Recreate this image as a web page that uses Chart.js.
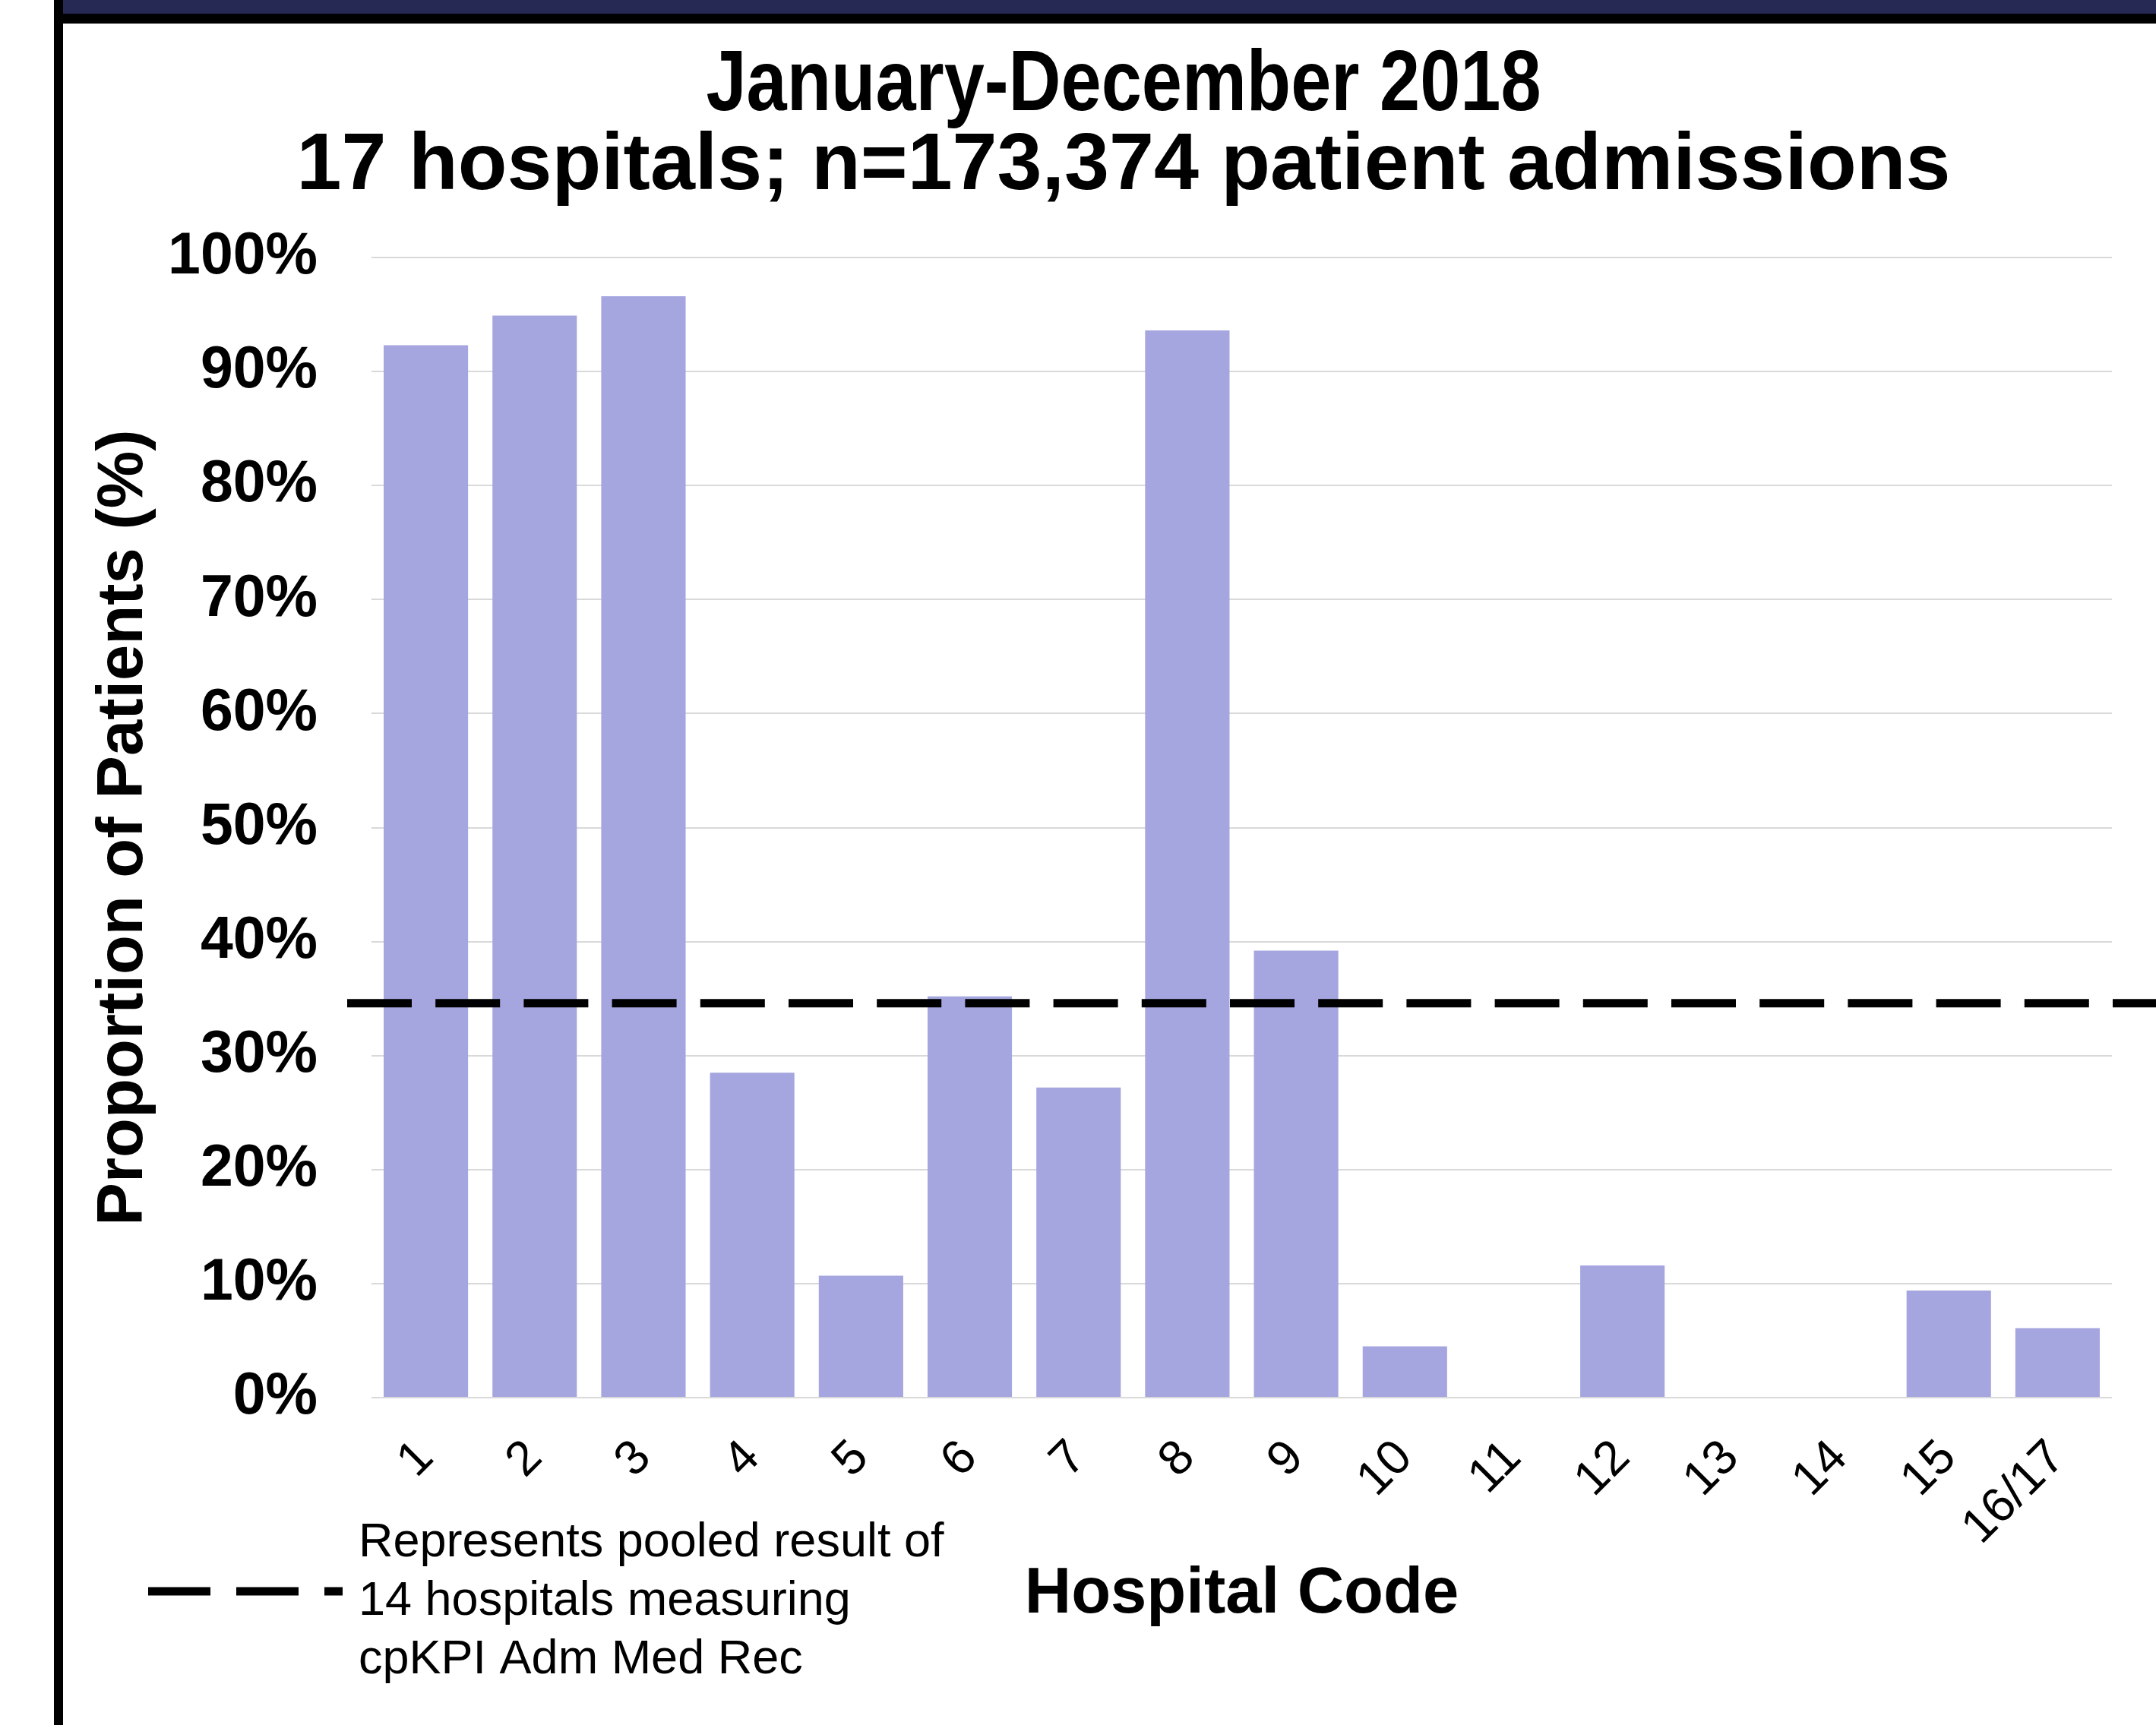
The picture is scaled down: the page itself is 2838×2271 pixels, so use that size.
<!DOCTYPE html>
<html>
<head>
<meta charset="utf-8">
<script src="https://cdn.jsdelivr.net/npm/chart.js@4.4.1/dist/chart.umd.min.js"></script>
<style>
  html, body { margin: 0; padding: 0; background: #ffffff; }
  #wrap { width: 2838px; height: 2271px; position: relative; }
  canvas { display: block; }
</style>
</head>
<body>
<div id="wrap"><canvas id="c" width="2838" height="2271"></canvas></div>
<script>
// ---- data ----
const hospitalCodes = ['1','2','3','4','5','6','7','8','9','10','11','12','13','14','15','16/17'];
const proportionPct = [92.3, 94.9, 96.6, 28.5, 10.7, 35.2, 27.2, 93.6, 39.2, 4.5, null, 11.6, null, null, 9.4, 6.1];
const pooledPct = [34.6];
const yTickValues = [0, 10, 20, 30, 40, 50, 60, 70, 80, 90, 100];
const titleLine1 = 'January-December 2018';
const titleLine2 = '17 hospitals; n=173,374 patient admissions';
const yAxisTitle = 'Proportion of Patients (%)';
const xAxisTitle = 'Hospital Code';
const legendLines = ['Represents pooled result of', '14 hospitals measuring', 'cpKPI Adm Med Rec'];

const SANS = '"Liberation Sans", Arial, sans-serif';

const framePlugin = {
  id: 'frame',
  beforeDraw(chart) {
    const ctx = chart.ctx;
    ctx.save();
    ctx.fillStyle = '#ffffff';
    ctx.fillRect(0, 0, chart.width, chart.height);
    ctx.fillStyle = '#262954';
    ctx.fillRect(83, 0, chart.width - 83, 18);
    ctx.fillStyle = '#000000';
    ctx.fillRect(71, 18, chart.width - 71, 13);
    ctx.fillRect(71, 0, 12, chart.height);
    // condensed first title line
    ctx.font = 'bold 114px ' + SANS;
    ctx.textAlign = 'center';
    ctx.textBaseline = 'alphabetic';
    const w = ctx.measureText(titleLine1).width;
    const sx = 1099 / w;
    ctx.translate(1479, 145);
    ctx.scale(sx, 1);
    ctx.fillText(titleLine1, 0, 0);
    ctx.restore();
  }
};

const pooledLinePlugin = {
  id: 'pooledLine',
  afterDatasetsDraw(chart) {
    const ctx = chart.ctx;
    const y = chart.scales.y.getPixelForValue(pooledPct[0]);
    ctx.save();
    ctx.strokeStyle = '#000000';
    ctx.lineWidth = 11;
    ctx.lineCap = 'butt';
    ctx.setLineDash([85, 31.2]);
    ctx.beginPath();
    ctx.moveTo(457, y);
    ctx.lineTo(chart.width, y);
    ctx.stroke();
    ctx.restore();
  }
};

const legendNotePlugin = {
  id: 'legendNote',
  afterDraw(chart) {
    const ctx = chart.ctx;
    ctx.save();
    ctx.strokeStyle = '#000000';
    ctx.lineWidth = 11;
    ctx.setLineDash([82, 34]);
    ctx.beginPath();
    ctx.moveTo(195, 2095);
    ctx.lineTo(451, 2095);
    ctx.stroke();
    ctx.setLineDash([]);
    ctx.fillStyle = '#000000';
    ctx.font = '63px ' + SANS;
    ctx.textAlign = 'left';
    ctx.textBaseline = 'alphabetic';
    legendLines.forEach((t, i) => ctx.fillText(t, 472, 2049 + i * 77));
    ctx.restore();
  }
};

new Chart(document.getElementById('c'), {
  type: 'bar',
  data: {
    labels: hospitalCodes,
    datasets: [{
      data: proportionPct,
      backgroundColor: '#a5a5df',
      borderWidth: 0,
      categoryPercentage: 1.0,
      barPercentage: 0.776
    }]
  },
  options: {
    responsive: false,
    animation: false,
    devicePixelRatio: 1,
    layout: { padding: { left: 178, right: 58, top: 162.5, bottom: 0 } },
    plugins: {
      legend: { display: false },
      tooltip: { enabled: false },
      title: { display: false },
      subtitle: {
        display: true,
        text: titleLine2,
        color: '#000000',
        font: { family: SANS, size: 106, weight: 'bold', lineHeight: 1.0 },
        padding: { top: 4.5, bottom: 66 }
      }
    },
    scales: {
      x: {
        grid: { display: false, drawTicks: false },
        border: { display: false },
        ticks: {
          color: '#000000',
          font: { family: SANS, size: 64 },
          minRotation: 45,
          maxRotation: 45,
          autoSkip: false,
          padding: 42
        },
        title: {
          display: true,
          text: xAxisTitle,
          color: '#000000',
          font: { family: SANS, size: 85, weight: 'bold', lineHeight: 1.2 },
          padding: { top: 0, bottom: 120 }
        },
        afterFit(scale) { scale.height = 431; }
      },
      y: {
        min: 0,
        max: 100,
        grid: { color: '#d9d9d9', lineWidth: 2, drawTicks: false },
        border: { display: false },
        afterBuildTicks(scale) { scale.ticks = yTickValues.map(v => ({ value: v })); },
        ticks: {
          color: '#000000',
          font: { family: SANS, size: 77, weight: 'bold' },
          padding: 71,
          callback: (v) => v + '%'
        },
        title: {
          display: true,
          text: yAxisTitle,
          color: '#000000',
          font: { family: SANS, size: 85, weight: 'bold', lineHeight: 1.0 },
          padding: { top: -56.5, bottom: 0 }
        },
        afterFit(scale) { scale.width = 311; }
      }
    }
  },
  plugins: [framePlugin, pooledLinePlugin, legendNotePlugin]
});
</script>
</body>
</html>
